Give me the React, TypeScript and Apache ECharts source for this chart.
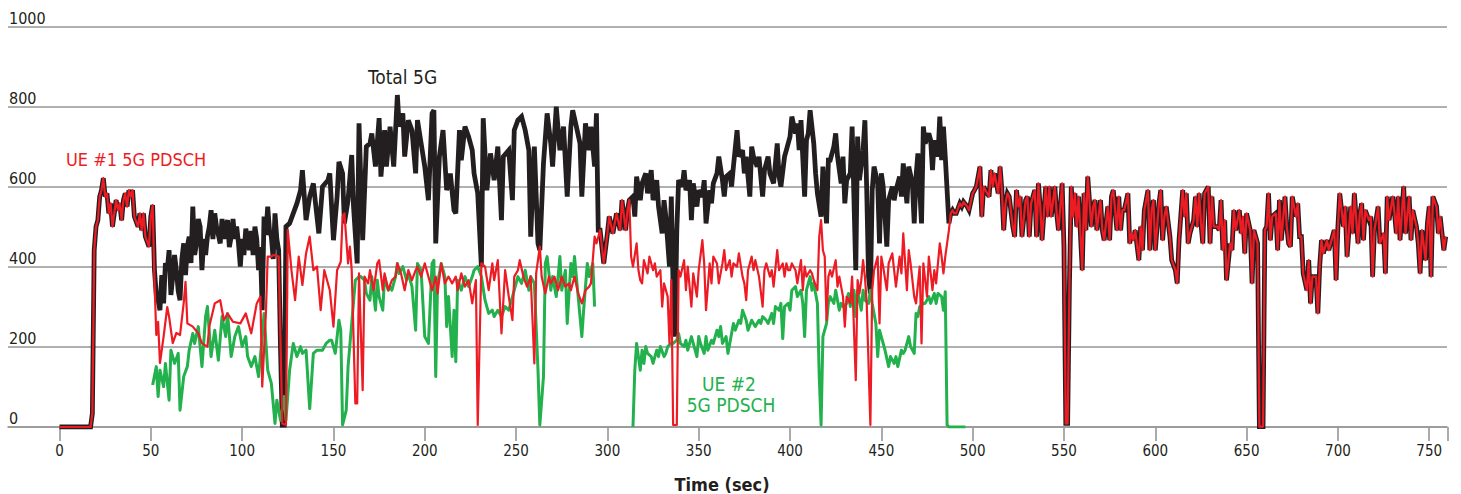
import React, { useEffect, useRef } from "react";
import * as echarts from "echarts";

// Time (sec) ticks
const xTicks = [0, 50, 100, 150, 200, 250, 300, 350, 400, 450, 500, 550, 600, 650, 700, 750];
const yTicks = [0, 200, 400, 600, 800, 1000];

// UE #1 5G PDSCH throughput [time sec, Mbps]
const ue1: [number, number][] = [
  [0,0],[17,0],[18,34],[19,442],[20,501],[21,517],[22,576],[23,592],[24,622],[25,576],[26,584],[27,534],[28,559],[29,501],[31,567],[32,542],[33,559],[34,517],[35,567],[36,584],[37,551],[38,592],[39,576],[40,592],[41,526],[43,501],[44,534],[45,492],[46,534],[47,476],[49,451],[50,526],[51,555],
  [52,367],[53,230],[54,263],[55,160],[57,226],[59,300],[60,276],[62,210],[64,235],[66,230],[68,310],[69,363],[70,259],[73,251],[76,234],[78,209],[81,201],[82,251],[85,309],[88,317],[90,267],[92,284],[95,263],[99,259],[102,284],[105,234],[108,309],[110,326],[111,101],[113,284],[114,426],[116,426],[117,430],[120,426],[122,9],[124,5],[125,492],[127,392],[129,317],[131,426],[133,355],[135,434],[137,476],[139,392],[141,401],[143,292],[145,392],[148,342],[150,251],
  [152,392],[154,413],[155,526],[156,534],[158,409],[159,451],[160,392],[162,59],[163,59],[164,384],[166,92],[167,376],[169,359],[170,392],[172,342],[174,409],[175,417],[177,342],[178,384],[180,342],[182,367],[184,376],[185,409],[187,384],[189,342],[191,392],[193,367],[195,392],[196,401],[198,376],[200,409],[202,376],[204,342],[206,376],[207,334],[209,409],[211,359],[213,376],[215,359],[217,376],[218,342],[220,384],[222,351],[224,367],[226,309],[228,367],[229,5],[231,409],[233,401],[235,342],[237,409],[238,367],[240,417],[242,234],[244,392],[246,326],[248,267],[249,376],[251,392],[252,417],[254,376],[256,351],[258,376],[260,159],[261,384],[263,451],[264,376],[266,334],[268,376],[269,359],[271,376],[273,342],[275,376],[277,351],[279,359],[280,342],[282,376],[284,334],[286,309],[288,342],[290,351],[291,359],[293,476],[294,459],
  [296,492],[298,409],[300,484],[301,526],[303,484],[305,534],[307,492],[308,567],[310,492],[311,542],[312,567],[313,426],[314,401],[316,459],[317,392],[318,367],[319,359],[320,417],[322,384],[323,426],[325,392],[326,409],[327,376],[329,392],[330,301],[331,359],[333,326],[334,209],[335,367],[336,5],[338,5],[339,392],[340,376],[342,417],[343,342],[344,401],[346,301],[347,384],[349,326],[350,392],[352,467],[353,409],[354,292],[356,409],[357,359],[358,426],[360,409],[361,359],[363,409],[364,442],[365,392],[367,417],[368,376],[369,409],[371,401],[372,434],[374,376],[375,359],[376,317],[377,392],[379,426],[380,392],[381,417],[383,376],[385,301],[386,392],[387,409],[389,376],[390,392],[391,351],[393,442],[394,392],[396,409],[397,376],[398,409],[399,392],
  [400,392],[401,409],[403,392],[404,359],[406,417],[407,342],[408,401],[409,376],[411,392],[412,384],[413,367],[415,342],[416,476],[417,517],[418,442],[419,426],[420,267],[421,376],[422,392],[423,376],[425,417],[426,351],[427,376],[429,326],[430,251],[431,326],[433,309],[434,376],[436,117],[437,367],[438,334],[439,367],[440,417],[441,376],[442,309],[444,5],[445,342],[446,392],[448,426],[449,259],[450,426],[451,401],[453,342],[454,409],[456,434],[457,392],[458,351],[460,426],[461,384],[462,484],[464,342],[465,442],[466,409],[468,326],[469,309],[471,401],[472,209],[473,409],[475,326],[476,426],[478,342],[479,392],[480,359],[482,459],[483,426],[484,384],[485,426],[487,492],[488,534],[489,542],
  [490,534],[491,534],[493,559],[494,551],[495,563],[497,551],[498,542],[500,584],[501,592],[502,601],[504,651],[505,526],[506,601],[507,592],[509,576],[510,642],[511,601],[512,634],[514,584],[515,651],[516,592],[517,492],[518,559],[519,584],[520,576],[522,501],[523,476],[524,592],[525,551],[526,576],[527,476],[529,567],[530,576],[531,476],[532,559],[534,592],[535,476],[536,609],[537,551],[538,467],[540,601],[541,526],[542,601],[543,526],[545,601],[546,534],[547,492],[549,609],[550,451],[551,9],[552,9],[553,359],[554,601],[555,526],[556,584],[557,501],[558,576],[560,392],[561,584],[562,492],[563,626],[565,501],[566,551],[567,567],[568,492],[570,567],[571,492],[572,467],[574,551],[575,467],[576,576],[577,592],[579,492],[580,576],[581,492],[582,542],[583,542],[585,584],[586,459],[587,484],[588,467],[589,492],[591,417],[592,501],[593,442],[594,542],[596,592],[597,442],[598,542],[599,567],[600,442],[602,559],[603,592],[604,467],[605,526],[606,551],[608,476],[609,417],[611,392],[612,359],[613,467],[615,592],[616,526],[617,584],[618,459],[619,484],[621,517],[622,576],[623,501],[624,584],[625,509],
  [626,459],[627,584],[629,601],[630,459],[631,576],[632,501],[634,501],[635,492],[636,567],[637,442],[638,517],[639,367],[641,459],[642,442],[643,542],[644,492],[646,542],[647,484],[648,526],[649,434],[650,534],[652,492],[653,359],[654,492],[655,476],[656,459],[657,1],[659,1],[660,492],[661,501],[662,584],[663,467],[664,526],[666,534],[667,442],[668,567],[669,467],[671,576],[672,501],[673,459],[674,451],[675,576],[677,526],[678,559],[679,476],[680,476],[681,384],[683,342],[684,417],[685,309],[686,376],[688,376],[689,284],[690,401],[691,467],[692,434],[694,467],[695,442],[696,459],[698,492],[699,367],[700,501],[701,584],[703,501],[704,551],[705,426],[707,551],[708,484],[709,584],[711,459],[712,534],[713,559],[714,467],[715,542],[717,517],[718,526],[719,376],[720,492],[722,551],[723,459],[725,484],[726,384],[727,576],[728,517],[730,576],[731,534],[732,484],[733,576],[734,467],[736,601],[737,484],[739,576],[740,467],[741,542],[743,501],[744,459],[745,384],[746,492],[748,417],[749,509],[750,551],[751,376],[752,576],[754,551],[755,484],[756,526],[758,442],[759,476]
];

// Total 5G throughput where it differs from UE #1 (UE #2 active)
const totalA: [number, number][] = [
  [52,392],[53,330],[54,317],[55,292],[56,380],[57,309],[58,410],[59,392],[60,442],[61,330],[62,376],[63,430],[64,392],[65,340],[66,317],[67,420],[68,459],[69,380],[70,451],[71,476],[72,410],[73,551],[74,430],[75,459],[76,520],[77,501],[78,392],[79,470],[80,430],[81,476],[82,500],[83,542],[84,470],[85,534],[86,500],[87,480],[88,459],[89,520],[90,470],[91,501],[92,517],[93,450],[94,476],[95,520],[96,470],[97,501],[98,460],[99,401],[100,470],[101,430],[102,496],[103,470],[104,442],[105,490],[106,430],[107,501],[108,470],[109,392],[110,450],[111,292],[112,526],[113,480],[114,551],[115,490],[116,476],[117,420],[118,534],[119,470],[120,442],[121,200],[122,5],[123,5],[124,501],[126,509],[128,534],[130,559],[132,592],[133,642],[135,517],[137,576],[139,609],[142,484],[144,601],[147,617],
  [148,634],[150,467],[152,576],[153,663],[155,634],[156,509],[158,567],[160,680],[161,551],[163,409],[164,759],[166,467],[168,701],[170,709],[171,734],[173,651],[175,772],[176,626],[178,742],[179,651],[181,751],[183,651],[185,830],[186,751],[188,784],[189,676],[191,767],[193,742],[195,634],[196,767],[198,709],[200,651],[202,567],[204,784],[205,792],[206,459],[208,676],[210,742],[212,592],[214,634],[216,542],[217,534],[219,742],[220,667],[222,751],[224,726],[226,692],[227,634],[229,584],[231,401],[232,772],[234,592],[236,684],[238,617],[240,701],[242,517],[243,676],[246,692],[248,567],[249,742],[251,767],[253,776],[255,742],[257,692],[258,476],[260,701],[262,459],[263,442],[265,659],[267,784],[269,709],[270,651],[272,801],[274,692],[276,751],[278,576],[280,751],[281,792],[283,751],[285,709],[286,576],[288,759],[290,692],[291,751],[293,651],[294,784],[295,492]
];
const totalB: [number, number][] = [
  [314,576],[315,526],[316,626],[318,567],[319,609],[321,634],[322,584],[324,642],[325,567],[327,617],[328,551],[330,484],[331,567],[332,526],[334,401],[335,576],[336,342],[337,226],[338,492],[339,617],[341,601],[342,642],[343,592],[345,617],[346,517],[347,609],[349,551],[350,592],[352,576],[353,617],[354,509],[356,592],[357,559],[358,609],[360,634],[361,676],[363,617],[364,576],[365,626],[367,634],[368,601],[369,651],[371,742],[372,676],[374,692],[375,634],[376,676],[378,576],[379,701],[380,676],[382,651],[383,676],[385,576],[386,642],[388,676],[389,634],[391,609],[393,709],[394,626],[395,601],[397,676],[398,692],[400,726],[401,776],[403,734],[404,759],[405,692],[406,767],[408,576],[409,717],[410,734],[411,792],[413,709],[414,634],[415,584],[417,526],[418,651],[420,509],[421,667],[422,667],[424,701],[425,734],[426,676],[428,609],[429,676],[430,559],[431,617],[433,634],[434,751],[436,392],[437,726],[438,617],[440,692],[441,767],[442,592],[443,376],[444,334],[445,592],[446,651],[448,609],[449,459],[450,634],[451,601],[453,451],[454,567],[456,601],[457,567],[458,592],[460,626],[461,576],[462,659],[464,559],[465,651],[467,609],[468,509],[469,626],[470,684],[472,509],[473,751],[474,709],[476,734],[477,717],[478,642],[479,717],[481,676],[482,776],[483,667],[484,751],[485,676],[487,509],[488,534]
];

// UE #2 5G PDSCH throughput (null = no data)
const ue2: [number, number | null][] = [
  [51,105],[53,151],[54,76],[55,142],[57,101],[58,159],[60,67],[61,192],[63,159],[65,184],[66,42],[68,126],[70,151],[71,192],[73,234],[74,209],[76,251],[78,151],[80,276],[81,301],[83,176],[85,242],[87,167],[89,276],[91,226],[92,284],[94,176],[96,226],[98,251],[100,201],[102,226],[103,176],[105,151],[107,176],[109,126],[111,226],[112,284],[114,142],[116,109],[118,9],[119,67],[121,17],[123,76],[124,17],[126,142],[128,209],[130,176],[132,201],[133,184],[135,192],[137,46],[139,184],[141,192],[144,192],[146,209],[148,217],
  [149,217],[151,184],[153,267],[154,242],[155,5],[157,42],[158,151],[160,259],[162,367],[164,376],[165,376],[167,367],[168,334],[170,317],[171,376],[173,292],[174,367],[175,326],[177,292],[178,376],[180,342],[181,351],[182,342],[184,376],[185,409],[186,384],[188,401],[190,367],[191,384],[193,351],[195,242],[196,409],[198,392],[200,226],[202,209],[204,409],[205,417],[206,126],[207,359],[209,409],[211,376],[212,251],[213,326],[215,176],[216,292],[217,163],[218,367],[220,342],[222,376],[224,351],[226,376],[227,392],[229,401],[231,376],[233,317],[235,284],[237,292],[238,276],[240,292],[242,276],[244,301],[246,292],[247,309],[249,342],[251,376],[253,359],[255,392],[257,342],[258,376],[260,359],[262,142],[263,5],[265,126],[266,409],[267,426],[269,342],[270,376],[272,326],[274,426],[275,342],[277,392],[278,259],[280,409],[281,376],[282,426],[284,326],[286,226],[287,292],[289,409],[290,376],[292,409],[293,301],
  [303,null],
  [314,0],[315,142],[316,209],[318,142],[319,192],[320,159],[321,201],[322,184],[324,176],[325,159],[327,192],[328,176],[329,201],[331,176],[332,184],[333,201],[335,209],[336,209],[338,217],[339,234],[340,209],[342,201],[343,217],[344,192],[346,226],[347,209],[349,176],[350,226],[351,209],[353,184],[354,226],[355,192],[357,217],[358,209],[360,242],[361,226],[362,251],[363,209],[365,226],[366,184],[368,234],[369,259],[370,242],[372,267],[373,259],[374,292],[376,267],[377,242],[379,267],[380,259],[381,251],[383,267],[384,259],[385,276],[387,267],[388,259],[390,284],[391,259],[392,301],[394,292],[395,309],[396,221],[397,301],[399,309],[400,292],[401,342],[403,351],[404,326],[406,342],[407,309],[408,226],[409,342],[411,376],[412,342],[413,359],[415,309],[416,126],[417,5],[418,226],[420,259],[421,309],[422,326],[424,309],[425,342],[427,292],[428,309],[429,301],[431,309],[432,334],[433,301],[435,342],[436,276],[437,342],[439,292],[440,342],[441,317],[443,309],[444,342],[445,309],[447,259],[448,176],[449,242],[451,209],[452,192],[454,151],[455,176],[457,159],[458,176],[459,151],[461,192],[462,184],[463,192],[465,226],[466,201],[468,184],[469,284],[470,276],[471,301],[473,309],[474,309],[476,326],[477,309],[479,334],[480,309],[481,334],[483,326],[484,292],[485,338],[486,5],[487,0],[496,0]
];

const total: [number, number][] = [
  ...ue1.filter((p) => p[0] <= 51),
  ...totalA,
  ...ue1.filter((p) => p[0] >= 296 && p[0] <= 312),
  ...totalB,
  ...ue1.filter((p) => p[0] >= 489),
];

const FONT = "'DejaVu Sans Condensed', 'DejaVu Sans', sans-serif";
const GRID_GRAY = "#969696";
const INK = "#231f20";
const RED = "#ed1c24";
const GREEN = "#22b14c";

export default function App() {
  const ref = useRef<HTMLDivElement>(null);
  useEffect(() => {
    document.body.style.margin = "0";
    const chart = echarts.init(ref.current!, null, { renderer: "svg" });
    chart.setOption({
      animation: false,
      backgroundColor: "#ffffff",
      textStyle: { fontFamily: FONT },
      grid: [
        { left: 8, top: 27, width: 1439, height: 400, containLabel: false },
        { left: 59.5, top: 27, width: 1388, height: 400, containLabel: false },
      ],
      xAxis: [
        {
          gridIndex: 0, type: "value", min: 0, max: 1, show: true,
          axisLine: { show: true, lineStyle: { color: GRID_GRAY, width: 1.6 } },
          axisTick: { show: false }, axisLabel: { show: false }, splitLine: { show: false },
        },
        {
          gridIndex: 1, type: "value", min: 0, max: 760, interval: 50,
          axisLine: { show: false },
          axisTick: { show: true, length: 14, lineStyle: { color: GRID_GRAY, width: 1.6 } },
          axisLabel: {
            show: true, margin: 16, fontSize: 15, color: INK, fontFamily: FONT,
            formatter: (v: number) => (xTicks.includes(v) ? String(v) : ""),
          },
          splitLine: { show: false },
        },
      ],
      yAxis: [
        {
          gridIndex: 0, type: "value", min: 0, max: 1000, interval: 200,
          axisLine: { show: false }, axisTick: { show: false },
          axisLabel: {
            show: true, inside: true, margin: 1, fontSize: 16, color: INK, fontFamily: FONT,
            verticalAlign: "bottom", align: "left", padding: [0, 0, 1, 0],
            formatter: (v: number) => (yTicks.includes(v) ? String(v) : ""),
          },
          splitLine: { show: true, lineStyle: { color: GRID_GRAY, width: 1.6 } },
        },
        {
          gridIndex: 1, type: "value", min: 0, max: 1000, show: false,
          splitLine: { show: false },
        },
      ],
      series: [
        {
          name: "Total 5G", type: "line", xAxisIndex: 1, yAxisIndex: 1, data: total,
          showSymbol: false, symbol: "none",
          lineStyle: { color: INK, width: 4.8, join: "miter", miterLimit: 3 }, z: 2,
        },
        {
          name: "UE #2 5G PDSCH", type: "line", xAxisIndex: 1, yAxisIndex: 1, data: ue2,
          showSymbol: false, symbol: "none", connectNulls: false,
          lineStyle: { color: GREEN, width: 3, join: "round" }, z: 3,
        },
        {
          name: "UE #1 5G PDSCH", type: "line", xAxisIndex: 1, yAxisIndex: 1, data: ue1,
          showSymbol: false, symbol: "none",
          lineStyle: { color: RED, width: 2.2, join: "round" }, z: 4,
        },
      ],
      graphic: [
        { type: "text", left: 368, top: 67, style: { text: "Total 5G", font: `19px ${FONT}`, fill: INK } },
        { type: "text", left: 66, top: 150, style: { text: "UE #1 5G PDSCH", font: `18px ${FONT}`, fill: RED } },
        { type: "text", x: 729, y: 384, style: { text: "UE #2", font: `19px ${FONT}`, fill: GREEN, align: "center", verticalAlign: "middle" } },
        { type: "text", x: 731, y: 405, style: { text: "5G PDSCH", font: `19px ${FONT}`, fill: GREEN, align: "center", verticalAlign: "middle" } },
        { type: "text", x: 722, y: 484, style: { text: "Time (sec)", font: `bold 18px ${FONT}`, fill: INK, align: "center", verticalAlign: "middle" } },
      ],
    });
    return () => chart.dispose();
  }, []);
  return <div ref={ref} style={{ width: 1461, height: 494 }} />;
}
